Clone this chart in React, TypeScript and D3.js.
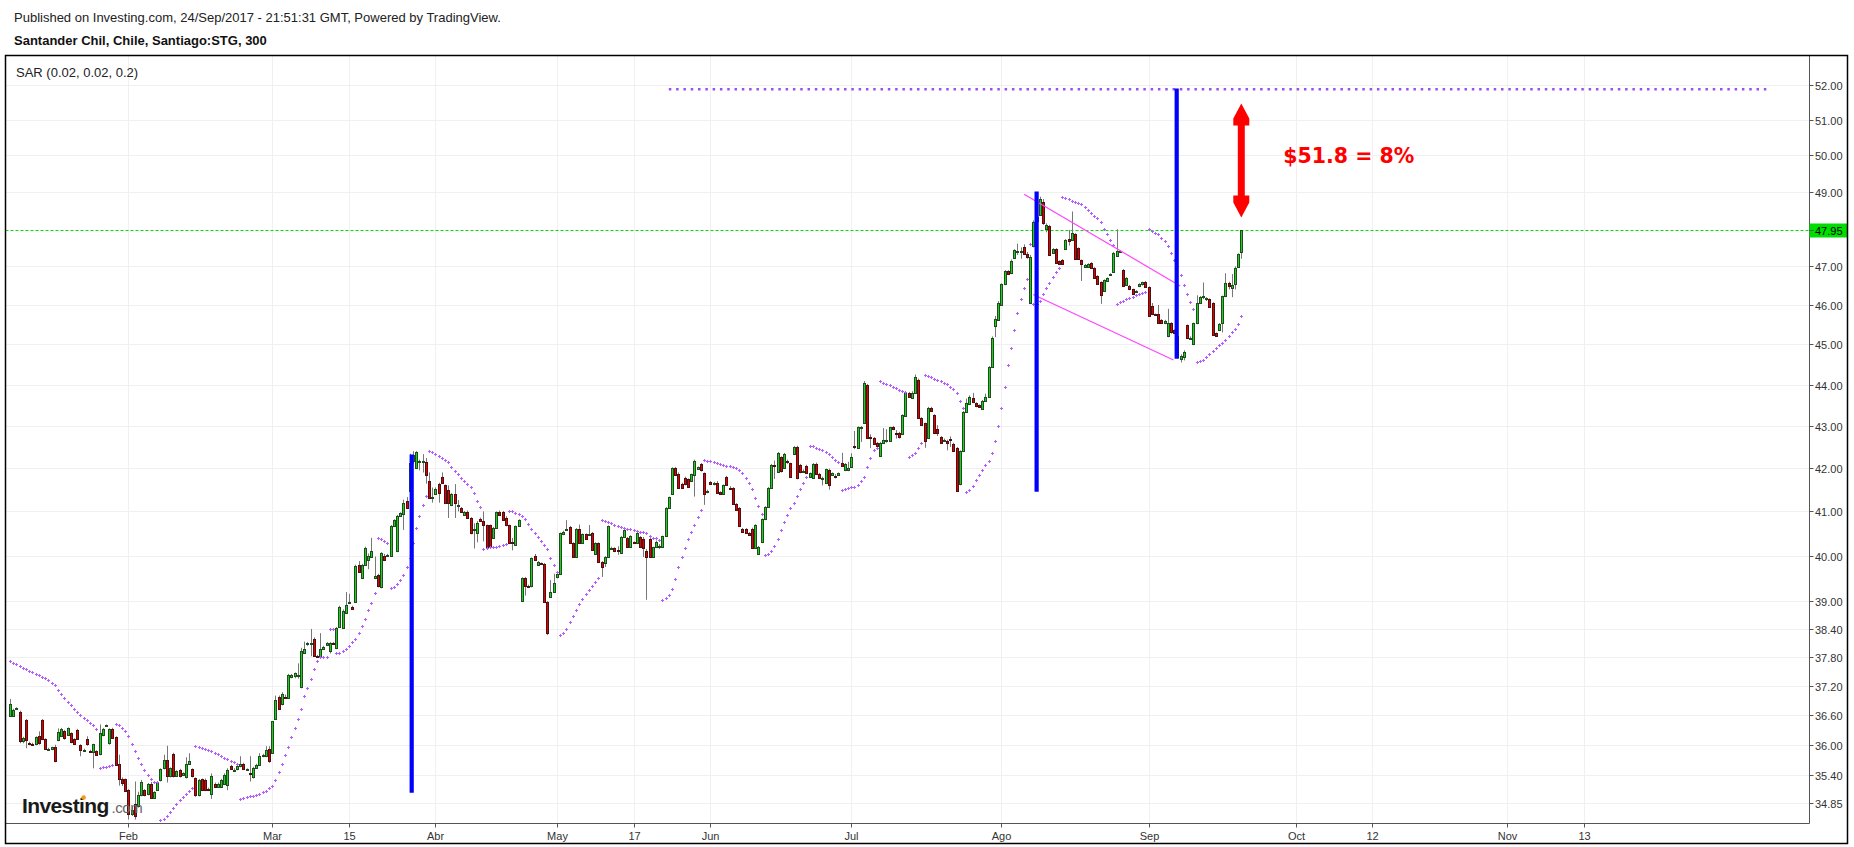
import React from "react";
import * as d3 from "d3";

type Bar = [number, number, number, number]; // open, high, low, close

const candles: Bar[] = [
  [36.59,36.93,36.58,36.82],[36.59,36.73,36.57,36.70],[36.73,36.76,36.71,36.75],[36.66,36.69,36.03,36.07],
  [36.07,36.16,36.03,36.13],[36.50,36.52,35.93,36.09],[36.03,36.06,35.99,36.02],[36.02,36.04,36.00,36.01],
  [36.01,36.17,35.99,36.15],[36.17,36.27,36.00,36.03],[36.50,36.52,36.09,36.11],[36.11,36.13,35.90,35.91],
  [35.91,35.94,35.89,35.92],[35.91,35.96,35.89,35.95],[35.95,36.00,35.65,35.67],[36.09,36.33,36.07,36.25],
  [36.18,36.34,36.16,36.31],[36.28,36.30,36.10,36.13],[36.20,36.35,36.18,36.33],[36.23,36.25,36.03,36.05],
  [36.11,36.13,36.01,36.02],[36.30,36.32,36.10,36.11],[35.99,36.01,35.77,35.89],[35.89,35.92,35.87,35.90],
  [36.11,36.17,35.98,36.01],[35.87,35.90,35.84,35.85],[35.85,36.02,35.53,36.01],[35.87,35.89,35.78,35.79],
  [35.81,36.41,35.79,36.23],[36.19,36.34,36.17,36.31],[36.39,36.41,36.36,36.39],[36.03,36.33,36.00,36.31],
  [36.31,36.34,36.12,36.13],[36.15,36.17,35.58,35.60],[35.61,35.80,35.19,35.31],[35.31,35.35,35.18,35.25],
  [35.31,35.33,35.07,35.09],[35.10,35.12,34.53,34.63],[34.63,34.78,34.60,34.72],[34.83,35.27,34.53,34.60],
  [34.79,35.07,34.76,35.00],[35.00,35.30,34.98,35.27],[35.10,35.12,34.98,35.00],[35.02,35.24,35.00,35.22],
  [35.23,35.26,34.95,34.95],[34.95,35.08,34.93,35.07],[35.11,35.26,35.09,35.25],[35.29,35.53,35.27,35.51],
  [35.53,35.80,35.51,35.70],[35.70,35.98,35.25,35.37],[35.37,35.55,35.35,35.53],[35.81,35.84,35.35,35.37],
  [35.38,35.49,35.36,35.48],[35.50,35.52,35.35,35.37],[35.40,35.45,35.38,35.43],[35.35,35.75,35.33,35.62],
  [35.62,35.83,35.60,35.67],[35.51,35.53,35.35,35.37],[35.33,35.35,34.97,35.00],[35.00,35.32,34.98,35.30],
  [35.31,35.33,35.08,35.10],[35.30,35.33,35.08,35.10],[35.13,35.15,35.08,35.10],[35.03,35.43,34.93,35.38],
  [35.22,35.25,35.16,35.17],[35.17,35.25,35.15,35.22],[35.17,35.32,35.15,35.30],[35.22,35.43,35.20,35.40],
  [35.20,35.53,35.10,35.50],[35.57,35.60,35.50,35.51],[35.50,35.53,35.48,35.50],[35.51,35.60,35.49,35.57],
  [35.57,35.77,35.55,35.62],[35.62,35.64,35.50,35.51],[35.51,35.53,35.49,35.51],[35.43,35.77,35.27,35.41],
  [35.35,35.56,35.33,35.54],[35.54,35.62,35.52,35.60],[35.60,35.83,35.58,35.77],[35.77,35.82,35.75,35.79],
  [35.77,35.97,35.75,35.89],[35.91,35.97,35.64,35.67],[35.84,36.48,35.82,36.47],[36.53,37.00,36.50,36.90],
  [36.97,37.00,36.72,36.73],[36.83,37.07,36.80,37.03],[36.98,37.02,36.95,36.97],[36.95,37.45,36.93,37.42],
  [37.38,37.45,37.36,37.43],[37.41,37.48,37.36,37.46],[37.43,37.67,37.35,37.43],
  // March rally
  [37.18,38.00,37.15,37.93],[37.89,38.13,37.87,37.98],[38.08,38.12,38.04,38.10],[38.10,38.40,37.82,38.10],
  [38.19,38.22,37.82,37.83],[37.83,37.85,37.80,37.82],[37.82,38.31,37.80,37.98],[37.98,38.04,37.96,38.02],
  [38.06,38.12,38.04,38.10],[37.93,38.12,37.88,38.10],[38.10,38.12,38.07,38.09],[37.99,38.44,37.97,38.42],
  [38.45,38.90,38.43,38.87],[38.42,38.82,38.40,38.78],[38.74,39.20,38.72,38.92],[38.98,39.16,38.95,38.98],
  [38.88,38.90,38.82,38.84],[38.98,39.80,38.96,39.77],[39.80,39.88,39.62,39.64],[39.51,39.82,39.49,39.80],
  [39.80,40.20,39.78,40.18],[39.90,40.05,39.70,40.00],[39.98,40.40,39.96,40.11],[39.50,39.98,39.48,39.56],
  [39.57,39.60,39.30,39.33],[39.30,40.08,39.28,40.06],[40.00,40.04,39.88,39.90],[40.00,40.04,39.98,40.02],
  [40.00,40.69,39.98,40.67],[40.67,40.82,40.65,40.80],[40.10,40.92,40.08,40.90],[40.90,40.98,40.88,40.96],
  [40.95,41.27,40.58,41.20],[41.24,41.33,41.07,41.08],[41.48,42.34,41.45,42.12],[42.18,42.40,42.10,42.31],
  [42.01,42.40,41.98,42.38],[42.14,42.20,41.95,42.18],[42.15,42.33,41.90,42.17],[42.15,42.24,41.64,41.84],
  [41.70,41.90,41.30,41.31],[41.30,41.55,41.20,41.32],[41.40,41.55,41.38,41.52],[41.63,41.66,41.20,41.43],
  [41.80,41.90,41.64,41.66],[41.60,41.62,41.18,41.20],[41.50,41.60,40.85,41.20],[41.15,41.42,41.12,41.40],
  [41.40,41.63,40.85,41.20],[41.14,41.26,41.00,41.15],[41.08,41.10,40.97,40.99],[40.92,41.01,40.90,40.99],
  [40.99,41.02,40.84,40.85],[40.85,40.87,40.48,40.50],[40.58,40.73,40.16,40.60],[40.52,40.78,40.30,40.74],
  [40.83,40.86,40.77,40.78],[40.78,41.00,40.32,40.68],[40.68,40.70,40.19,40.20],[40.68,40.70,40.19,40.20],
  [40.40,40.65,40.38,40.63],[40.62,41.00,40.60,40.98],[40.99,41.02,40.90,40.92],[40.99,41.01,40.79,40.80],
  [40.86,40.89,40.66,40.68],[40.68,40.70,40.26,40.28],[40.30,40.40,40.12,40.28],[40.25,40.68,40.22,40.67],
  [40.67,40.82,40.65,40.80],[39.00,39.52,38.98,39.50],[39.50,39.53,39.12,39.34],[39.34,39.36,39.30,39.33],
  [39.33,39.96,39.30,39.94],[40.00,40.04,39.88,39.90],[39.80,39.88,39.78,39.86],[39.83,39.85,39.80,39.82],
  [39.82,39.84,38.96,38.98],[38.98,39.00,38.27,38.32],[39.09,39.46,39.07,39.20],[39.20,39.60,39.18,39.39],
  [39.53,39.62,39.50,39.60],[39.60,40.52,39.58,40.50],
  // May - July
  [40.48,40.56,40.46,40.53],[40.58,40.80,40.56,40.60],[40.64,40.67,40.27,40.28],[40.28,40.30,39.96,39.97],
  [39.97,40.62,39.95,40.60],[40.60,40.70,40.27,40.28],[40.28,40.50,40.26,40.48],[40.48,40.50,40.36,40.38],
  [40.47,40.69,40.45,40.48],[40.51,40.53,40.12,40.13],[40.04,40.30,40.02,40.28],[40.28,40.30,39.84,39.86],
  [39.86,39.88,39.53,39.75],[39.84,39.99,39.75,39.97],[39.97,40.68,39.95,40.67],[40.17,40.20,40.14,40.17],
  [40.17,40.19,40.08,40.10],[40.12,40.21,40.02,40.10],[40.06,40.44,40.04,40.42],[40.42,40.60,40.40,40.58],
  [40.40,40.42,40.18,40.20],[40.20,40.46,40.18,40.44],[40.30,40.32,40.27,40.29],[40.28,40.53,40.26,40.51],
  [40.42,40.44,40.18,40.20],[40.38,40.42,39.97,40.17],[40.10,40.15,39.03,39.97],[40.37,40.40,39.95,39.97],
  [39.97,40.20,39.95,40.19],[40.20,40.34,40.18,40.31],[40.20,40.26,40.15,40.22],[40.20,40.45,40.18,40.44],
  [40.44,41.10,40.42,41.08],[41.08,41.34,41.06,41.32],[41.40,42.02,41.38,42.00],[42.00,42.03,41.83,41.85],
  [41.87,41.90,41.53,41.55],[41.62,41.66,41.53,41.55],[41.78,41.80,41.60,41.62],[41.74,41.76,41.56,41.57],
  [41.70,41.87,41.68,41.86],[41.84,42.20,41.34,42.17],[41.98,42.04,41.96,42.02],[42.10,42.12,41.92,41.95],
  [41.88,41.90,41.15,41.39],[41.44,41.50,41.42,41.48],[41.67,41.70,41.62,41.64],[41.62,41.68,41.60,41.66],
  [41.66,41.70,41.40,41.42],[41.44,41.46,41.38,41.40],[41.40,41.62,41.38,41.60],[41.79,41.82,41.59,41.61],
  [41.55,41.58,41.52,41.54],[41.54,41.56,41.16,41.17],[41.17,41.19,41.02,41.04],[41.08,41.10,40.66,40.67],
  [40.60,40.62,40.52,40.53],[40.60,40.62,40.49,40.51],[40.50,40.53,40.45,40.46],[40.60,40.63,40.16,40.17],
  [40.17,40.71,40.15,40.69],[40.04,40.22,40.02,40.20],[40.30,40.84,40.28,40.82],[40.82,41.12,40.80,41.10],
  [41.10,41.56,41.08,41.54],[41.54,42.10,41.52,42.08],[42.08,42.18,41.75,42.07],[41.92,42.38,41.90,42.36],
  [42.26,42.28,41.90,41.93],[42.00,42.36,41.98,42.33],[42.16,42.20,42.10,42.14],[42.11,42.13,41.79,41.80],
  [42.34,42.52,42.32,42.50],[42.50,42.53,41.74,41.76],[42.08,42.10,41.88,41.90],[41.94,41.97,41.91,41.94],
  [42.05,42.08,41.87,41.88],[41.80,41.90,41.78,41.88],[41.77,42.12,41.75,42.10],[42.10,42.13,41.86,41.87],
  [41.87,41.89,41.77,41.78],[41.76,41.80,41.60,41.78],[41.66,41.99,41.64,41.98],[41.96,41.99,41.50,41.61],
  [41.84,41.90,41.82,41.88],[41.82,41.86,41.76,41.80],[41.84,41.90,41.82,41.88],[42.12,42.36,42.05,42.06],
  // July - August
  [41.95,42.12,41.93,42.10],[41.95,42.15,41.93,42.01],[42.02,42.35,42.00,42.27],[42.52,42.88,42.45,42.49],
  [42.48,42.99,42.46,42.97],[42.97,43.00,42.62,42.98],[43.07,44.09,43.05,44.04],[43.99,44.02,42.69,42.71],
  [42.74,42.80,42.47,42.73],[42.72,42.74,42.55,42.57],[42.60,42.62,42.50,42.52],[42.29,42.62,42.27,42.60],
  [42.60,42.95,42.58,42.67],[42.65,42.92,42.60,42.66],[42.65,42.98,42.63,42.97],[42.97,43.00,42.90,42.92],
  [42.84,42.90,42.70,42.83],[42.84,42.86,42.70,42.74],[42.81,43.28,42.79,43.26],[43.25,43.81,43.23,43.79],
  [43.79,43.82,43.68,43.70],[43.68,43.84,43.66,43.80],[43.80,44.25,43.78,44.19],[44.12,44.15,43.18,43.19],
  [43.19,43.21,43.00,43.02],[43.06,43.08,42.48,42.65],[42.71,43.46,42.69,43.43],[43.43,43.46,43.34,43.36],
  [43.26,43.28,42.81,42.83],[42.92,43.02,42.76,42.83],[42.74,42.76,42.58,42.60],[42.65,42.70,42.62,42.66],
  [42.65,42.67,42.42,42.60],[42.70,42.75,42.50,42.68],[42.57,42.60,42.38,42.41],[42.48,42.50,41.45,41.48],
  [41.62,42.42,41.60,42.40],[42.40,43.36,42.38,43.33],[43.34,43.66,43.32,43.56],[43.53,43.74,43.51,43.70],
  [43.68,43.80,43.55,43.58],[43.55,43.57,43.45,43.47],[43.50,43.52,43.44,43.46],[43.41,43.63,43.39,43.60],
  [43.60,43.78,43.58,43.70],[43.70,44.46,43.68,44.44],[44.44,45.20,44.42,45.16],[45.47,45.72,45.18,45.64],
  [45.62,46.10,45.60,46.05],[46.00,46.56,45.98,46.53],[46.53,46.90,46.51,46.87],[46.87,46.90,46.78,46.80],
  [46.82,47.18,46.80,47.14],[47.22,47.45,47.20,47.43],[47.37,47.60,47.30,47.40],[47.40,47.50,47.20,47.41],
  // August - September
  [47.51,47.58,47.30,47.33],[47.33,47.38,47.20,47.25],[46.05,47.30,46.02,47.25],[47.53,48.22,47.50,48.19],
  [48.20,48.34,48.18,48.32],[48.36,48.86,48.34,48.80],[48.72,48.80,48.10,48.16],[48.00,48.14,47.90,48.10],
  [48.07,48.10,47.28,47.30],[47.35,47.48,47.33,47.45],[47.46,47.48,47.07,47.09],[47.14,47.16,47.05,47.07],
  [47.17,47.19,47.04,47.05],[47.46,47.72,47.44,47.70],[47.72,47.96,47.55,47.68],[47.70,48.46,47.68,47.88],
  [47.86,47.88,47.18,47.20],[47.48,47.50,47.18,47.20],[47.16,47.18,46.62,47.06],[46.98,47.06,46.96,47.04],
  [46.98,47.08,46.96,47.05],[47.09,47.11,46.95,46.96],[46.96,46.98,46.69,46.70],[46.75,46.77,46.52,46.54],
  [46.59,46.61,46.03,46.26],[46.36,46.66,46.34,46.64],[46.62,46.71,46.60,46.69],[46.78,46.82,46.75,46.79],
  [46.85,47.38,46.83,47.35],[47.27,47.98,47.25,47.40],[47.40,47.42,47.38,47.41],[46.90,46.93,46.48,46.50],
  [46.51,46.72,46.49,46.69],[46.50,46.52,46.38,46.40],[46.40,46.42,46.27,46.28],[46.35,46.38,46.33,46.36],
  [46.48,46.56,46.46,46.54],[46.53,46.60,46.50,46.58],[46.59,46.62,46.45,46.46],[46.46,46.48,45.70,45.72],
  [45.97,46.05,45.74,45.76],[45.76,45.78,45.72,45.74],[45.76,46.00,45.52,45.54],[45.62,45.64,45.52,45.53],
  [45.53,45.62,45.51,45.60],[45.20,45.90,45.18,45.53],[45.53,45.56,45.27,45.30],[45.35,45.38,45.26,45.28],
  [45.21,45.23,44.66,44.68],[44.63,44.75,44.55,44.70],[44.68,44.85,44.60,44.82],[45.48,45.50,45.14,45.16],
  [45.14,45.20,45.12,45.17],[45.00,45.55,44.98,45.53],[45.53,46.25,45.51,46.05],[46.05,46.23,46.03,46.20],
  [46.22,46.58,46.15,46.23],[46.16,46.20,46.10,46.18],[46.15,46.17,45.93,45.95],[46.05,46.07,45.22,45.24],
  [45.28,45.30,45.20,45.22],[45.36,45.54,45.34,45.52],[45.54,46.24,45.30,46.22],[46.22,46.82,46.20,46.56],
  [46.56,46.60,46.40,46.48],[46.44,46.80,46.20,46.52],[46.53,47.00,46.40,46.97],[46.99,47.34,46.97,47.32],
  [47.37,47.95,47.20,47.95],
];

const priceTicks = [52, 51, 50, 49, 47, 46, 45, 44, 43, 42, 41, 40, 39, 38.4, 37.8, 37.2, 36.6, 36, 35.4, 34.85];
const timeTickLabels = ["Feb", "Mar", "15", "Abr", "May", "17", "Jun", "Jul", "Ago", "Sep", "Oct", "12", "Nov", "13"];
const timeTickBars = [37, 82, 106, 133, 171, 195, 219, 263, 310, 356, 402, 426, 468, 492];
const lastPrice = 47.95;

const sarStart = 0.02;
const sarStep = 0.02;
const sarMax = 0.2;
const sarSeedSar = 37.72;
const sarSeedEp = 35.9;

// drawings on the chart (bar index, price)
const targetPrice = 51.88;
const targetBars = [206, 550.4];
const blueBars = [125.6, 321.0, 364.8];
const blueHigh = [42.32, 49.0, 51.9];
const blueLow = [35.05, 41.45, 44.64];
const channelBars = [[317.1, 365.9], [319.9, 363.8]];
const channelPrices = [[48.93, 46.49], [46.27, 44.61]];
const arrowBar = 385;
const arrowPrices = [51.47, 48.3];
const noteText = "$51.8 = 8%";
const noteBar = 398.1;
const notePrice = 49.79;

function computeSAR(bars: Bar[]): number[] {
  const out: number[] = [];
  let long = false;
  let sar = sarSeedSar;
  let ep = sarSeedEp;
  let af = sarStart;
  out.push(sar);
  for (let i = 1; i < bars.length; i++) {
    const h = bars[i][1];
    const l = bars[i][2];
    let next = sar + af * (ep - sar);
    const p1 = bars[i - 1];
    const p2 = i > 1 ? bars[i - 2] : bars[i - 1];
    if (long) {
      next = Math.min(next, p1[2], p2[2]);
      if (l < next) {
        long = false; next = ep; ep = l; af = sarStart;
      } else if (h > ep) {
        ep = h; af = Math.min(af + sarStep, sarMax);
      }
    } else {
      next = Math.max(next, p1[1], p2[1]);
      if (h > next) {
        long = true; next = ep; ep = h; af = sarStart;
      } else if (l < ep) {
        ep = l; af = Math.min(af + sarStep, sarMax);
      }
    }
    sar = next;
    out.push(sar);
  }
  return out;
}

export default function App() {
  const W = 1854, H = 847;
  const fl = 5.5, ft = 55.5, fr = 1847.5, fb = 843.5;
  const pr = 1809.5, pb = 823.5;
  const x = d3.scaleLinear().domain([0, candles.length - 1]).range([10, 1241.3]);
  const y = d3.scaleLog().domain([34.85, 52]).range([803, 85]);
  const sar = computeSAR(candles);
  const snap = (v: number) => Math.round(v) + 0.5;
  const font = "'Liberation Sans', Arial, sans-serif";
  const upFill = "#1fcc1f", upStroke = "#1d4d1d";
  const dnFill = "#e00000", dnStroke = "#4d1010";
  const sarColor = "#b45cff";

  const ax = x(arrowBar);
  const aTop = y(arrowPrices[0]);
  const aBot = y(arrowPrices[1]);
  const arrowPath = [
    [ax, aTop], [ax + 8, aTop + 15], [ax + 8, aTop + 22], [ax + 3.5, aTop + 22],
    [ax + 3.5, aBot - 22], [ax + 8, aBot - 22], [ax + 8, aBot - 15], [ax, aBot],
    [ax - 8, aBot - 15], [ax - 8, aBot - 22], [ax - 3.5, aBot - 22], [ax - 3.5, aTop + 22],
    [ax - 8, aTop + 22], [ax - 8, aTop + 15],
  ].map((p, i) => (i ? "L" : "M") + p[0] + "," + p[1]).join("") + "Z";

  const yLast = snap(y(lastPrice));

  return (
    <svg width={W} height={H} style={{ position: "absolute", left: 0, top: 0, background: "#fff" }}>
      <rect x={0} y={0} width={W} height={H} fill="#fff" />
      <text x={14} y={21.5} fontFamily={font} fontSize={13} fill="#222">
        Published on Investing.com, 24/Sep/2017 - 21:51:31 GMT, Powered by TradingView.
      </text>
      <text x={14} y={45} fontFamily={font} fontSize={13} fontWeight="bold" fill="#111">
        Santander Chil, Chile, Santiago:STG, 300
      </text>
      <defs>
        <clipPath id="plotClip">
          <rect x={fl} y={ft} width={pr - fl} height={pb - ft} />
        </clipPath>
      </defs>
      {/* grid */}
      <g stroke="#f0f0f0" strokeWidth={1}>
        {priceTicks.map((p, i) => (
          <line key={"hg" + i} x1={fl} x2={pr} y1={snap(y(p))} y2={snap(y(p))} />
        ))}
        {timeTickBars.map((b, i) => (
          <line key={"vg" + i} x1={snap(x(b))} x2={snap(x(b))} y1={ft} y2={pb} />
        ))}
      </g>
      <text x={16} y={76.5} fontFamily={font} fontSize={13} fill="#222">SAR (0.02, 0.02, 0.2)</text>
      <g clipPath="url(#plotClip)">
        {/* last price line */}
        <line x1={fl} x2={pr} y1={yLast} y2={yLast} stroke="#00dd00" strokeWidth={1} strokeDasharray="3,2" />
        {/* candles */}
        {candles.map(([o, h, l, c], i) => {
          const cx = Math.round(x(i));
          const up = c >= o;
          const yTop = Math.round(y(Math.max(o, c)));
          const yBot = Math.max(Math.round(y(Math.min(o, c))), yTop + 1);
          return (
            <g key={"c" + i}>
              <line x1={cx + 0.5} x2={cx + 0.5} y1={y(Math.max(h, o, c))} y2={y(Math.min(l, o, c))} stroke="#777" strokeWidth={1} />
              <rect x={cx - 0.5} y={yTop + 0.5} width={2} height={yBot - yTop}
                fill={up ? upFill : dnFill} stroke={up ? upStroke : dnStroke} strokeWidth={1} />
            </g>
          );
        })}
        {/* parabolic SAR */}
        <g stroke={sarColor} strokeWidth={1}>
          {sar.map((s, i) => {
            const px = Math.round(x(i)) + 0.5;
            const py = Math.round(y(s)) + 0.5;
            return <path key={"s" + i} d={`M${px - 1.5},${py}h3M${px},${py - 1.5}v3`} />;
          })}
        </g>
        {/* drawings */}
        <line x1={x(targetBars[0])} x2={x(targetBars[1])} y1={y(targetPrice)} y2={y(targetPrice)}
          stroke="#9d4df2" strokeWidth={2.5} strokeDasharray="2.5,4.8" />
        {channelBars.map((cb, i) => (
          <line key={"ch" + i} x1={x(cb[0])} x2={x(cb[1])} y1={y(channelPrices[i][0])} y2={y(channelPrices[i][1])}
            stroke="#ff44ff" strokeWidth={1.2} />
        ))}
        {blueBars.map((b, i) => (
          <line key={"bl" + i} x1={x(b)} x2={x(b)} y1={y(blueHigh[i])} y2={y(blueLow[i])} stroke="#0000ff" strokeWidth={4.2} />
        ))}
        <path d={arrowPath} fill="#ff0000" />
        <text x={x(noteBar)} y={y(notePrice)} fontFamily="'DejaVu Sans', Verdana, sans-serif" fontWeight="bold"
          fontSize={20.5} fill="#ff0000">{noteText}</text>
      </g>
      {/* logo */}
      <g>
        <text x={22} y={813} fontFamily={font} fontWeight="bold" fontSize={21} letterSpacing={-0.6} fill="#1a1a1a">Investing</text>
        <circle cx={83.6} cy={797.5} r={2.3} fill="#f39c12" />
        <text x={111.5} y={813} fontFamily={font} fontSize={15} letterSpacing={-0.4} fill="#666">.com</text>
      </g>
      {/* axes */}
      <line x1={pr} x2={pr} y1={ft} y2={pb} stroke="#555" />
      <line x1={fl} x2={pr} y1={pb} y2={pb} stroke="#555" />
      {priceTicks.map((p, i) => (
        <g key={"pt" + i}>
          <line x1={pr} x2={pr + 4} y1={snap(y(p))} y2={snap(y(p))} stroke="#555" />
          <text x={1815} y={snap(y(p)) + 4} fontFamily={font} fontSize={11} fill="#333">{p.toFixed(2)}</text>
        </g>
      ))}
      <rect x={pr} y={yLast - 7} width={fr - pr} height={14} fill="#00dd00" />
      <line x1={pr} x2={pr + 4} y1={yLast} y2={yLast} stroke="#555" />
      <text x={1815} y={yLast + 4} fontFamily={font} fontSize={11} fill="#000">{lastPrice.toFixed(2)}</text>
      {timeTickBars.map((b, i) => (
        <g key={"tt" + i}>
          <line x1={snap(x(b))} x2={snap(x(b))} y1={pb} y2={pb + 4} stroke="#555" />
          <text x={snap(x(b))} y={840} textAnchor="middle" fontFamily={font} fontSize={11} fill="#333">{timeTickLabels[i]}</text>
        </g>
      ))}
      <rect x={fl} y={ft} width={fr - fl} height={fb - ft} fill="none" stroke="#000" strokeWidth={1.5} />
    </svg>
  );
}
